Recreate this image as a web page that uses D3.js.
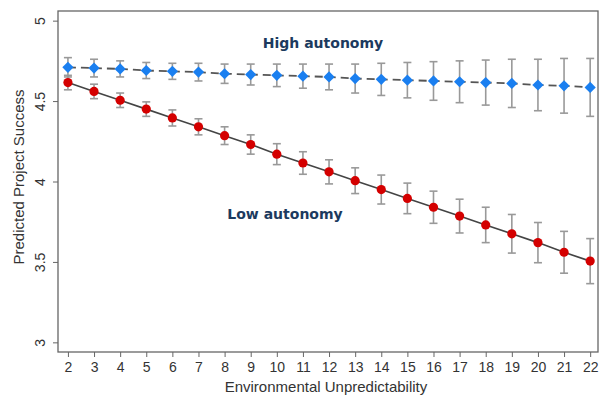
<!DOCTYPE html>
<html>
<head>
<meta charset="utf-8">
<script src="https://cdn.jsdelivr.net/npm/d3@7"></script>
<style>
  body { margin: 0; background: #fff; }
  svg { display: block; }
</style>
</head>
<body>
<div id="chart"></div>
<script>
// Data
var unpredictability = [2, 3, 4, 5, 6, 7, 8, 9, 10, 11, 12, 13, 14, 15, 16, 17, 18, 19, 20, 21, 22];
var highAutonomy = [4.71, 4.705, 4.70, 4.69, 4.685, 4.68, 4.67, 4.665, 4.66, 4.655, 4.65, 4.64, 4.635, 4.63, 4.625, 4.62, 4.615, 4.61, 4.60, 4.595, 4.585];
var highError = [0.06, 0.055, 0.05, 0.05, 0.05, 0.055, 0.06, 0.065, 0.07, 0.075, 0.08, 0.09, 0.10, 0.11, 0.12, 0.13, 0.14, 0.15, 0.16, 0.17, 0.18];
var lowAutonomy = [4.615, 4.56, 4.505, 4.45, 4.395, 4.34, 4.285, 4.23, 4.17, 4.115, 4.06, 4.005, 3.95, 3.895, 3.84, 3.785, 3.73, 3.675, 3.62, 3.56, 3.505];
var lowError = [0.045, 0.045, 0.045, 0.045, 0.05, 0.05, 0.055, 0.06, 0.065, 0.07, 0.075, 0.08, 0.09, 0.095, 0.10, 0.105, 0.11, 0.12, 0.125, 0.13, 0.14];
var yTicks = [3, 3.5, 4, 4.5, 5];

var svgWidth = 600, svgHeight = 396;
var margin = { top: 11, right: 2, bottom: 44, left: 58 };
var width = svgWidth - margin.left - margin.right;
var height = svgHeight - margin.top - margin.bottom;

var svg = d3.select("#chart").append("svg")
  .attr("width", svgWidth)
  .attr("height", svgHeight);

var chartGroup = svg.append("g")
  .attr("transform", `translate(${margin.left}, ${margin.top})`);

var xScale = d3.scaleLinear().domain([1.62, 22.3]).range([0, width]);
var yScale = d3.scaleLinear().domain([2.94, 5.06]).range([height, 0]);

// frame
chartGroup.append("rect")
  .attr("width", width).attr("height", height)
  .attr("fill", "none").attr("stroke", "#666").attr("stroke-width", 1.3);

// axes
var bottomAxis = d3.axisBottom(xScale).tickValues(unpredictability).tickSize(5).tickSizeOuter(0).tickPadding(3);
var leftAxis = d3.axisLeft(yScale).tickValues(yTicks).tickSize(5).tickSizeOuter(0).tickFormat(d3.format("")).tickPadding(4);

var xAxis = chartGroup.append("g")
  .attr("transform", `translate(0, ${height})`)
  .call(bottomAxis);
var yAxis = chartGroup.append("g").call(leftAxis);

[xAxis, yAxis].forEach(function (ax) {
  ax.select(".domain").remove();
  ax.selectAll("line").attr("stroke", "#666");
  ax.selectAll("text")
    .attr("font-family", "Liberation Sans, Arial, sans-serif")
    .attr("font-size", "14px")
    .attr("fill", "#333");
});
xAxis.selectAll("text").attr("dy", "0.85em");
// rotated y tick labels
yAxis.selectAll(".tick text")
  .attr("x", null).attr("dy", null)
  .attr("text-anchor", "middle")
  .attr("transform", "translate(-13,0) rotate(-90)");

// axis titles
chartGroup.append("text")
  .attr("x", 326 - margin.left)
  .attr("y", height + 40)
  .attr("text-anchor", "middle")
  .attr("font-family", "Liberation Sans, Arial, sans-serif")
  .attr("font-size", "15px")
  .attr("fill", "#333")
  .text("Environmental Unpredictability");

chartGroup.append("text")
  .attr("transform", "rotate(-90)")
  .attr("x", 0 - (177 - margin.top))
  .attr("y", 0 - margin.left + 24)
  .attr("text-anchor", "middle")
  .attr("font-family", "Liberation Sans, Arial, sans-serif")
  .attr("font-size", "15px")
  .attr("fill", "#333")
  .text("Predicted Project Success");

function buildSeries(values, errors) {
  return unpredictability.map(function (x, i) {
    return { x: x, y: values[i], e: errors[i] };
  });
}
var highData = buildSeries(highAutonomy, highError);
var lowData = buildSeries(lowAutonomy, lowError);

var line = d3.line().x(d => xScale(d.x)).y(d => yScale(d.y));

function drawErrorBars(data, cls) {
  var g = chartGroup.append("g").attr("class", cls);
  var bars = g.selectAll("g").data(data).enter().append("g");
  bars.append("line")
    .attr("x1", d => xScale(d.x)).attr("x2", d => xScale(d.x))
    .attr("y1", d => yScale(d.y + d.e)).attr("y2", d => yScale(d.y - d.e))
    .attr("stroke", "#999").attr("stroke-width", 1.6);
  [1, -1].forEach(function (s) {
    bars.append("line")
      .attr("x1", d => xScale(d.x) - 4).attr("x2", d => xScale(d.x) + 4)
      .attr("y1", d => yScale(d.y + s * d.e)).attr("y2", d => yScale(d.y + s * d.e))
      .attr("stroke", "#999").attr("stroke-width", 1.6);
  });
}

drawErrorBars(highData, "high-err");
drawErrorBars(lowData, "low-err");

// lines
chartGroup.append("path").datum(lowData)
  .attr("d", line).attr("fill", "none")
  .attr("stroke", "#444").attr("stroke-width", 1.6);

chartGroup.append("path").datum(highData)
  .attr("d", line).attr("fill", "none")
  .attr("stroke", "#555").attr("stroke-width", 1.8)
  .attr("stroke-dasharray", "8,5");

// markers
chartGroup.selectAll(".low-dot").data(lowData).enter().append("circle")
  .attr("class", "low-dot")
  .attr("cx", d => xScale(d.x)).attr("cy", d => yScale(d.y))
  .attr("r", 4.6).attr("fill", "#d40000");

var diamond = d3.symbol().type(d3.symbolDiamond2).size(80);
chartGroup.selectAll(".high-dot").data(highData).enter().append("path")
  .attr("class", "high-dot")
  .attr("transform", d => `translate(${xScale(d.x)}, ${yScale(d.y)})`)
  .attr("d", diamond).attr("fill", "#1a7ff0");

// annotations
chartGroup.append("text")
  .attr("x", 323 - margin.left).attr("y", 48 - margin.top)
  .attr("text-anchor", "middle")
  .attr("font-family", "DejaVu Sans, Verdana, sans-serif")
  .attr("font-weight", "bold").attr("font-size", "14px")
  .attr("fill", "#1c3a5e")
  .text("High autonomy");

chartGroup.append("text")
  .attr("x", 285 - margin.left).attr("y", 219 - margin.top)
  .attr("text-anchor", "middle")
  .attr("font-family", "DejaVu Sans, Verdana, sans-serif")
  .attr("font-weight", "bold").attr("font-size", "14px")
  .attr("fill", "#1c3a5e")
  .text("Low autonomy");
</script>
</body>
</html>
